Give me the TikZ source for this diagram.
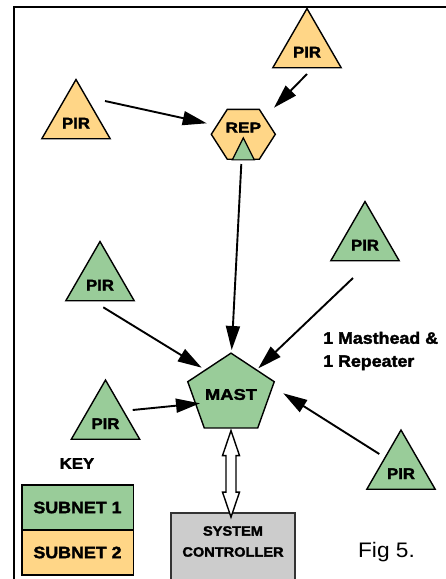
\documentclass[tikz,border=0pt]{standalone}
\usepackage{fontspec}
\newfontfamily\figfont{Liberation Sans}[FakeStretch=1.08]
\newfontfamily\heavyfont{Liberation Sans Bold}[FakeStretch=1.08, FakeBold=2]
\usetikzlibrary{shapes.geometric,arrows.meta}

\definecolor{subnetone}{HTML}{99CC99}
\definecolor{subnettwo}{HTML}{FFD687}
\definecolor{ctrlgray}{HTML}{CCCCCC}

\tikzset{
  frame/.style={line width=2pt},
  sensor/.style={regular polygon, regular polygon sides=3, draw, line width=1.4pt,
    minimum size=72pt, inner sep=0pt, text height=19pt, text depth=0pt,
    font=\heavyfont\fontsize{15.5}{18}\selectfont},
  repeater/.style={regular polygon, regular polygon sides=6, draw, line width=1.4pt,
    fill=subnettwo, minimum size=64pt, inner sep=0pt, yscale=0.9, text depth=15pt,
    font=\heavyfont\fontsize{16}{18}\selectfont},
  masthead/.style={regular polygon, regular polygon sides=5, draw, line width=1.4pt,
    fill=subnetone, minimum size=69pt, inner sep=0pt, yscale=0.91,
    font=\heavyfont\fontsize{17}{20}\selectfont},
  mini/.style={draw, line width=1.2pt, fill=subnetone},
  link/.style={line width=1.9pt, -{Triangle[length=24pt,width=14pt]}},
  hollow/.style={draw, line width=1.4pt, fill=white},
  ctrl/.style={rectangle, draw=black!80, line width=1.8pt, fill=ctrlgray,
    minimum width=124pt, minimum height=80pt, anchor=north},
  ctrltext/.style={align=center, inner sep=0pt,
    font=\heavyfont\fontsize{13.5}{21}\selectfont},
  keybox/.style={rectangle, draw, line width=1.6pt, minimum width=111.6pt,
    minimum height=45pt, font=\heavyfont\fontsize{16.5}{20}\selectfont},
  keytext/.style={inner sep=0pt, font=\heavyfont\fontsize{15.5}{18}\selectfont},
  note/.style={align=left, inner sep=0pt, font=\heavyfont\fontsize{16.5}{23}\selectfont},
  figtext/.style={inner sep=0pt, font=\figfont\fontsize{21}{25}\selectfont}
}

\begin{document}
\begin{tikzpicture}[x=1pt,y=-1pt]
  \useasboundingbox (0,0) rectangle (445,579);
  \draw[frame] (14,590) |- (450,7);

  % subnet 2
  \node[sensor, fill=subnettwo] (pirA) at (76,119) {PIR};
  \node[sensor, fill=subnettwo] (pirB) at (307,48) {PIR};
  \node[repeater] (rep) at (243.3,134.3) {REP};
  \draw[mini] (rep.south) ++(-11,0) -- ++(11,-22) -- ++(11,22) -- cycle;

  % subnet 1
  \node[sensor, fill=subnetone] (pirC) at (100,281) {PIR};
  \node[sensor, fill=subnetone] (pirD) at (105.5,419.5) {PIR};
  \node[sensor, fill=subnetone] (pirE) at (365,241) {PIR};
  \node[sensor, fill=subnetone] (pirF) at (401,469.5) {PIR};
  \node[masthead] (mast) at (231,394.5) {MAST};

  \node[ctrl, label={[ctrltext, anchor=north, yshift=-14pt]north:{SYSTEM\\CONTROLLER}}] (sys) at (233,512) {};

  \draw[link] ([shift={(29,-18)}]pirA.center) -- ([shift={(-36.6,-11)}]rep.center);
  \draw[link] ([shift={(0,26)}]pirB.center) -- ([shift={(30.7,-26.6)}]rep.center);
  \draw[link] ([shift={(-2,29.7)}]rep.center) -- ([shift={(0.7,-44.5)}]mast.center);
  \draw[link] ([shift={(3.3,26.3)}]pirC.center) -- ([shift={(-29.3,-26.8)}]mast.center);
  \draw[link] ([shift={(27.2,-9.5)}]pirD.center) -- ([shift={(-31,8.8)}]mast.center);
  \draw[link] ([shift={(-12,37)}]pirE.center) -- ([shift={(27.3,-26.2)}]mast.center);
  \draw[link] ([shift={(-21.7,-15.5)}]pirF.center) -- ([shift={(52.3,-1.2)}]mast.center);

  % mast <-> controller
  \draw[hollow] ([yshift=-2pt]mast.south) -- ++(8.5,25) -- ++(-3.5,0) -- ++(0,36.5)
    -- ++(3.5,0) -- ++(-8.5,25) -- ++(-8.5,-25) -- ++(3.5,0) -- ++(0,-36.5)
    -- ++(-3.5,0) -- cycle;

  % key
  \node[keytext] (key) at (77,463.5) {KEY};
  \node[keybox, fill=subnetone] (sub1) at (77.5,507.5) {SUBNET 1};
  \node[keybox, fill=subnettwo] (sub2) at (77.5,552.5) {SUBNET 2};

  \node[note, anchor=west] (note) at (323,351) {1 Masthead \&\\1 Repeater};
  \node[figtext] (fig) at (386.5,552.5) {Fig 5.};
\end{tikzpicture}
\end{document}
